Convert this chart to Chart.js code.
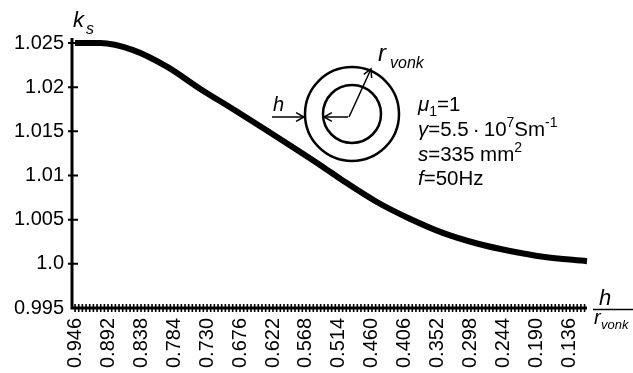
<!DOCTYPE html>
<html>
<head>
<meta charset="utf-8">
<script src="https://cdn.jsdelivr.net/npm/chart.js@4.4.1/dist/chart.umd.min.js"></script>
<style>
  html, body { margin: 0; padding: 0; background: #fff; }
  #wrap { width: 633px; height: 373px; }
</style>
</head>
<body>
<div id="wrap"><canvas id="c" width="633" height="373"></canvas></div>
<script>
// Relative thickness h / r_vonk (x) and skin-effect factor k_s (y)
const hRatio = [0.946, 0.905, 0.851, 0.795, 0.741, 0.687, 0.632, 0.578, 0.545, 0.507, 0.452, 0.398, 0.344, 0.288, 0.234, 0.180, 0.108];
const ksValues = [1.0250, 1.0250, 1.0242, 1.0223, 1.0198, 1.0175, 1.0151, 1.0127, 1.0112, 1.0094, 1.0070, 1.0051, 1.0035, 1.0023, 1.00145, 1.0008, 1.0003];

// Axis tick labels
const xTickLabels = ['0.946', '0.892', '0.838', '0.784', '0.730', '0.676', '0.622', '0.568', '0.514', '0.460', '0.406', '0.352', '0.298', '0.244', '0.190', '0.136'];
const yTickLabels = ['0.995', '1.0', '1.005', '1.01', '1.015', '1.02', '1.025'];

const FONT = '"Liberation Sans", Arial, sans-serif';
const MINOR_PER_MAJOR = 9;

// Draws a run of text pieces: {t, i (italic), sub, sup}
function richText(ctx, x, y, parts, base) {
  let cx = x;
  for (const p of parts) {
    const size = (p.sub || p.sup) ? Math.round(base * 0.7) : base;
    ctx.font = (p.i ? 'italic ' : '') + size + 'px ' + FONT;
    let dy = 0;
    if (p.sub) dy = base * 0.22;
    if (p.sup) dy = -base * 0.42;
    ctx.fillText(p.t, cx, y + dy);
    cx += ctx.measureText(p.t).width + (p.gap || 0);
  }
}

function arrow(ctx, x1, y1, x2, y2, head) {
  ctx.beginPath();
  ctx.moveTo(x1, y1);
  ctx.lineTo(x2, y2);
  ctx.stroke();
  const a = Math.atan2(y2 - y1, x2 - x1);
  ctx.beginPath();
  ctx.moveTo(x2 - head * Math.cos(a - 0.5), y2 - head * Math.sin(a - 0.5));
  ctx.lineTo(x2, y2);
  ctx.lineTo(x2 - head * Math.cos(a + 0.5), y2 - head * Math.sin(a + 0.5));
  ctx.stroke();
}

// Axis lines with tick marks crossing them
const axesPlugin = {
  id: 'crossAxes',
  afterDatasetsDraw(chart) {
    const ctx = chart.ctx;
    const xs = chart.scales.x, ys = chart.scales.y;
    const { left, right, top, bottom } = chart.chartArea;
    ctx.save();
    ctx.strokeStyle = '#000';
    ctx.lineCap = 'butt';

    ctx.lineWidth = 3;
    ctx.beginPath();
    ctx.moveTo(left, top - 2);
    ctx.lineTo(left, bottom + 1.5);
    ctx.moveTo(left - 1.5, bottom);
    ctx.lineTo(right, bottom);
    ctx.stroke();

    ctx.lineWidth = 2;
    ctx.beginPath();
    for (const s of yTickLabels) {
      const py = ys.getPixelForValue(parseFloat(s));
      if (py >= bottom - 1) continue;
      ctx.moveTo(left - 4, py);
      ctx.lineTo(left + 6, py);
    }
    ctx.stroke();

    const v0 = parseFloat(xTickLabels[0]);
    const step = (v0 - parseFloat(xTickLabels[1])) / MINOR_PER_MAJOR;
    ctx.lineWidth = 1.6;
    ctx.beginPath();
    for (let k = 0; ; k++) {
      const v = v0 - k * step;
      if (v < xs.min) break;
      const px = xs.getPixelForValue(v);
      ctx.moveTo(px, bottom - 4);
      ctx.lineTo(px, bottom + 4);
    }
    ctx.stroke();
    ctx.restore();
  }
};

// Axis titles, cross-section sketch and parameter block
const notesPlugin = {
  id: 'notes',
  afterDraw(chart) {
    const ctx = chart.ctx;
    ctx.save();
    ctx.fillStyle = '#000';
    ctx.strokeStyle = '#000';
    ctx.textBaseline = 'alphabetic';
    ctx.textAlign = 'left';

    // y title k_s
    ctx.font = 'italic 22px ' + FONT;
    ctx.fillText('k', 73, 27);
    ctx.font = 'italic 16px ' + FONT;
    ctx.fillText('s', 86, 34);

    // x title h / r_vonk
    ctx.font = 'italic 22px ' + FONT;
    ctx.fillText('h', 599, 305);
    ctx.lineWidth = 1.5;
    ctx.beginPath();
    ctx.moveTo(593, 309.5);
    ctx.lineTo(633, 309.5);
    ctx.stroke();
    ctx.font = 'italic 20px ' + FONT;
    ctx.fillText('r', 594, 324);
    ctx.font = 'italic 13px ' + FONT;
    ctx.fillText('vonk', 601, 329);

    // conductor cross-section
    const cx = 352, cy = 114;
    ctx.lineWidth = 2.5;
    ctx.beginPath();
    ctx.arc(cx, cy, 47, 0, Math.PI * 2);
    ctx.stroke();
    ctx.beginPath();
    ctx.arc(cx, cy, 29, 0, Math.PI * 2);
    ctx.stroke();
    ctx.lineWidth = 1.5;
    arrow(ctx, 349, 117, 371, 69, 9);
    arrow(ctx, 348, 117, 324, 117, 9);
    arrow(ctx, 272, 117, 304, 117, 9);
    ctx.font = 'italic 20px ' + FONT;
    ctx.fillText('h', 273, 111);
    ctx.font = 'italic 24px ' + FONT;
    ctx.fillText('r', 378, 61);
    ctx.font = 'italic 16px ' + FONT;
    ctx.fillText('vonk', 390, 68);

    // parameters
    const B = 20.5;
    richText(ctx, 418, 111, [{ t: 'μ', i: true }, { t: '1', sub: true }, { t: '=1' }], B);
    richText(ctx, 418, 136, [{ t: 'γ', i: true }, { t: '=5.5\u2009·\u200910' }, { t: '7', sup: true }, { t: 'Sm' }, { t: '-1', sup: true }], B);
    richText(ctx, 418, 161, [{ t: 's', i: true }, { t: '=335 mm' }, { t: '2', sup: true }], B);
    richText(ctx, 418, 185, [{ t: 'f', i: true }, { t: '=50Hz' }], B);
    ctx.restore();
  }
};

new Chart(document.getElementById('c'), {
  type: 'line',
  data: {
    datasets: [{
      data: hRatio.map((h, i) => ({ x: h, y: ksValues[i] })),
      borderColor: '#000',
      borderWidth: 6,
      pointRadius: 0,
      tension: 0.4,
      cubicInterpolationMode: 'monotone',
      fill: false,
      clip: false
    }]
  },
  options: {
    responsive: false,
    devicePixelRatio: 1,
    animation: false,
    layout: { padding: { top: 40, right: 46, left: 0, bottom: 0 } },
    plugins: { legend: { display: false }, tooltip: { enabled: false } },
    scales: {
      x: {
        type: 'linear',
        reverse: true,
        min: 0.108,
        max: 0.951,
        afterBuildTicks: s => { s.ticks = xTickLabels.map(t => ({ value: parseFloat(t) })); },
        afterFit: s => { s.height = 65; },
        grid: { display: false, drawTicks: false },
        border: { display: false },
        ticks: {
          autoSkip: false,
          minRotation: 90,
          maxRotation: 90,
          padding: 10,
          color: '#000',
          font: { family: FONT, size: 20 },
          callback: v => xTickLabels.find(t => Math.abs(parseFloat(t) - v) < 1e-6) || ''
        }
      },
      y: {
        type: 'linear',
        min: 0.995,
        max: 1.02534,
        afterBuildTicks: s => { s.ticks = yTickLabels.map(t => ({ value: parseFloat(t) })); },
        afterFit: s => { s.width = 72; },
        grid: { display: false, drawTicks: false },
        border: { display: false },
        ticks: {
          padding: 8,
          color: '#000',
          font: { family: FONT, size: 20 },
          callback: v => yTickLabels.find(t => Math.abs(parseFloat(t) - v) < 1e-6) || ''
        }
      }
    }
  },
  plugins: [axesPlugin, notesPlugin]
});
</script>
</body>
</html>
